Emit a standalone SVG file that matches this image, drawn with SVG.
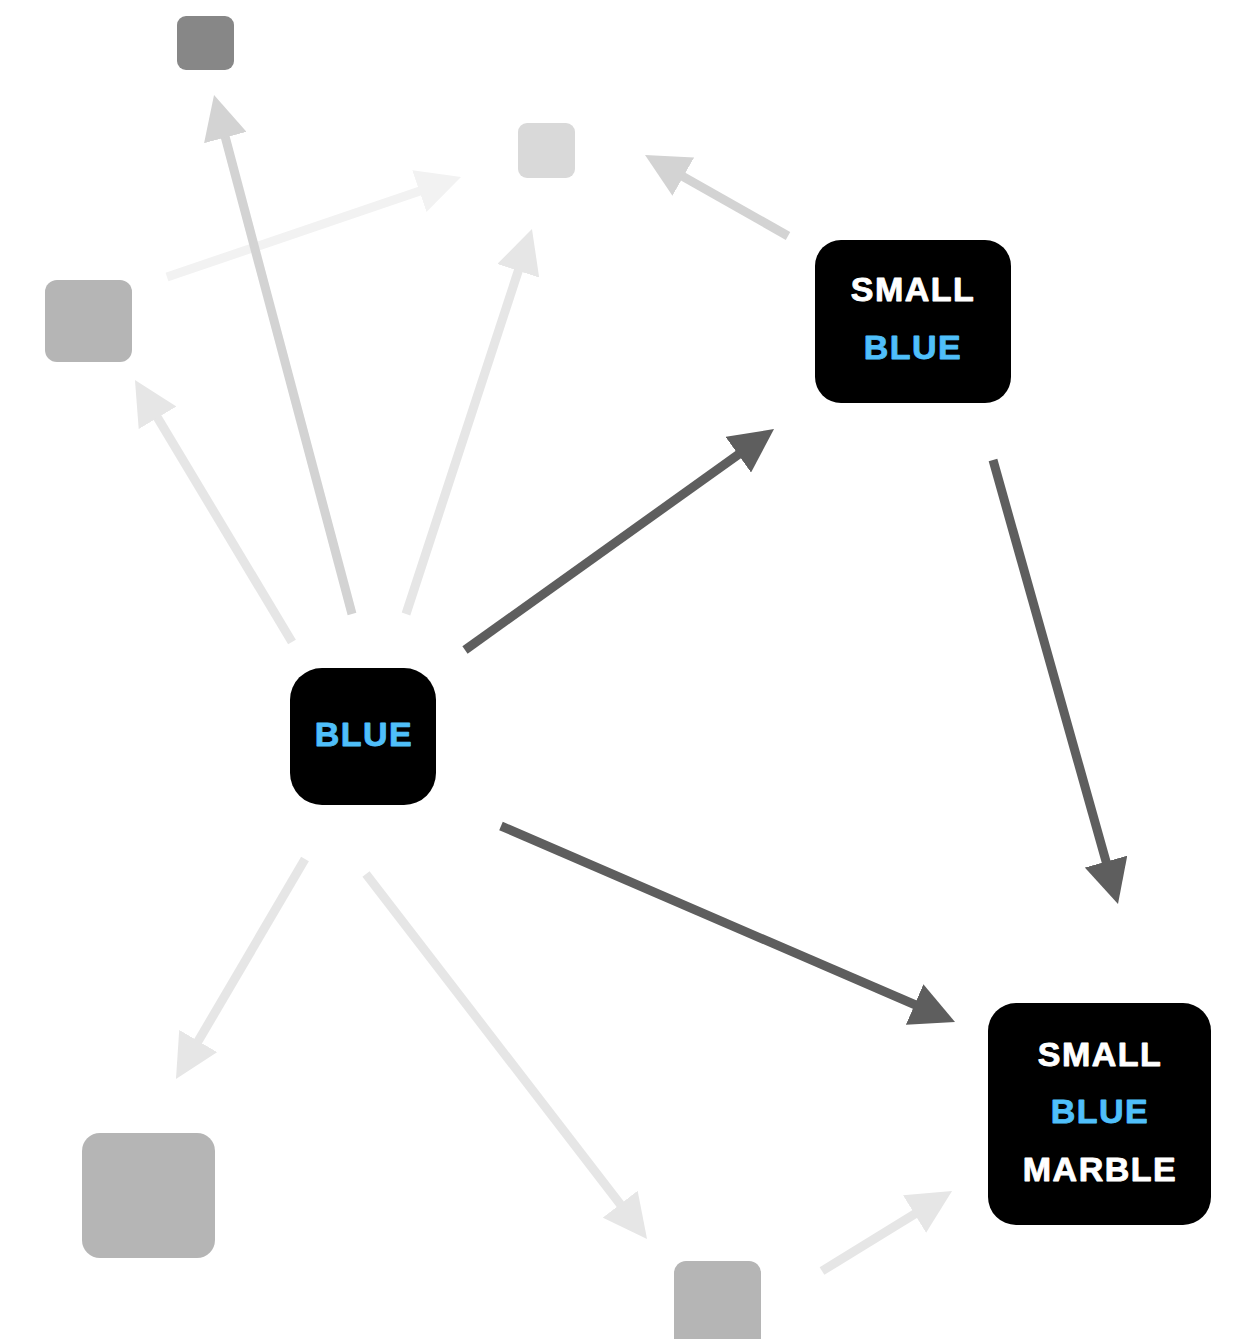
<svg xmlns="http://www.w3.org/2000/svg" width="1235" height="1339" viewBox="0 0 1235 1339">
<style>
.n{fill:#000}
.t{font-family:"Liberation Sans",Arial,sans-serif;font-weight:bold;font-size:34px;letter-spacing:1.5px;text-anchor:middle;stroke-width:0.9px;stroke-linejoin:round}
.w{fill:#fff;stroke:#fff}
.b{fill:#4fbffa;stroke:#4fbffa}
.c{fill:none;stroke-width:9}
.dk{stroke:#5e5e5e;marker-end:url(#mdk)}
.g1{stroke:#d3d3d3;marker-end:url(#mg1)}
.g2{stroke:#e6e6e6;marker-end:url(#mg2)}
.g3{stroke:#f2f2f2;marker-end:url(#mg3)}
</style>
<defs>
<marker id="mdk" viewBox="0 0 44 44" markerWidth="44" markerHeight="44" markerUnits="userSpaceOnUse" refX="20" refY="22" orient="auto"><path d="M0,0 L44,22 L0,44 z" fill="#5e5e5e"/></marker>
<marker id="mg1" viewBox="0 0 44 44" markerWidth="44" markerHeight="44" markerUnits="userSpaceOnUse" refX="20" refY="22" orient="auto"><path d="M0,0 L44,22 L0,44 z" fill="#d3d3d3"/></marker>
<marker id="mg2" viewBox="0 0 44 44" markerWidth="44" markerHeight="44" markerUnits="userSpaceOnUse" refX="20" refY="22" orient="auto"><path d="M0,0 L44,22 L0,44 z" fill="#e6e6e6"/></marker>
<marker id="mg3" viewBox="0 0 44 44" markerWidth="44" markerHeight="44" markerUnits="userSpaceOnUse" refX="20" refY="22" orient="auto"><path d="M0,0 L44,22 L0,44 z" fill="#f2f2f2"/></marker>
</defs>
<g id="connectors">
<line class="c g3" x1="167" y1="277" x2="438.3" y2="184.7"/>
<line class="c g1" x1="352" y1="614" x2="220.2" y2="118.2"/>
<line class="c g2" x1="406" y1="614" x2="524.5" y2="251.8"/>
<line class="c g2" x1="292" y1="642" x2="147.3" y2="400.6"/>
<line class="c g1" x1="788" y1="236" x2="665.9" y2="166.8"/>
<line class="c g2" x1="305" y1="859" x2="188.1" y2="1058.3"/>
<line class="c g2" x1="366" y1="874" x2="632.4" y2="1220.0"/>
<line class="c g2" x1="822" y1="1271" x2="931.6" y2="1203.6"/>
<line class="c dk" x1="465" y1="650" x2="754.5" y2="443.0"/>
<line class="c dk" x1="501" y1="826" x2="933.0" y2="1012.5"/>
<line class="c dk" x1="993" y1="460" x2="1111.5" y2="880.9"/>
</g>
<g id="node-top-dark"><rect x="177" y="16" width="57" height="54" rx="9" fill="#878787"/></g>
<g id="node-top-light"><rect x="518" y="123" width="57" height="55" rx="9" fill="#d9d9d9"/></g>
<g id="node-left"><rect x="45" y="280" width="87" height="82" rx="12" fill="#b5b5b5"/></g>
<g id="node-bottom-left"><rect x="82" y="1133" width="133" height="125" rx="18" fill="#b5b5b5"/></g>
<g id="node-bottom-center"><rect x="674" y="1261" width="87" height="90" rx="12" fill="#b5b5b5"/></g>
<g id="node-blue">
<rect class="n" x="290" y="668" width="146" height="137" rx="32"/>
<text class="t b" x="364" y="746">BLUE</text>
</g>
<g id="node-small-blue">
<rect class="n" x="815" y="240" width="196" height="163" rx="26"/>
<text class="t w" x="913" y="301">SMALL</text>
<text class="t b" x="913" y="359">BLUE</text>
</g>
<g id="node-small-blue-marble">
<rect class="n" x="988" y="1003" width="223" height="222" rx="28"/>
<text class="t w" x="1100" y="1066">SMALL</text>
<text class="t b" x="1100" y="1123">BLUE</text>
<text class="t w" x="1100" y="1181">MARBLE</text>
</g>
</svg>
